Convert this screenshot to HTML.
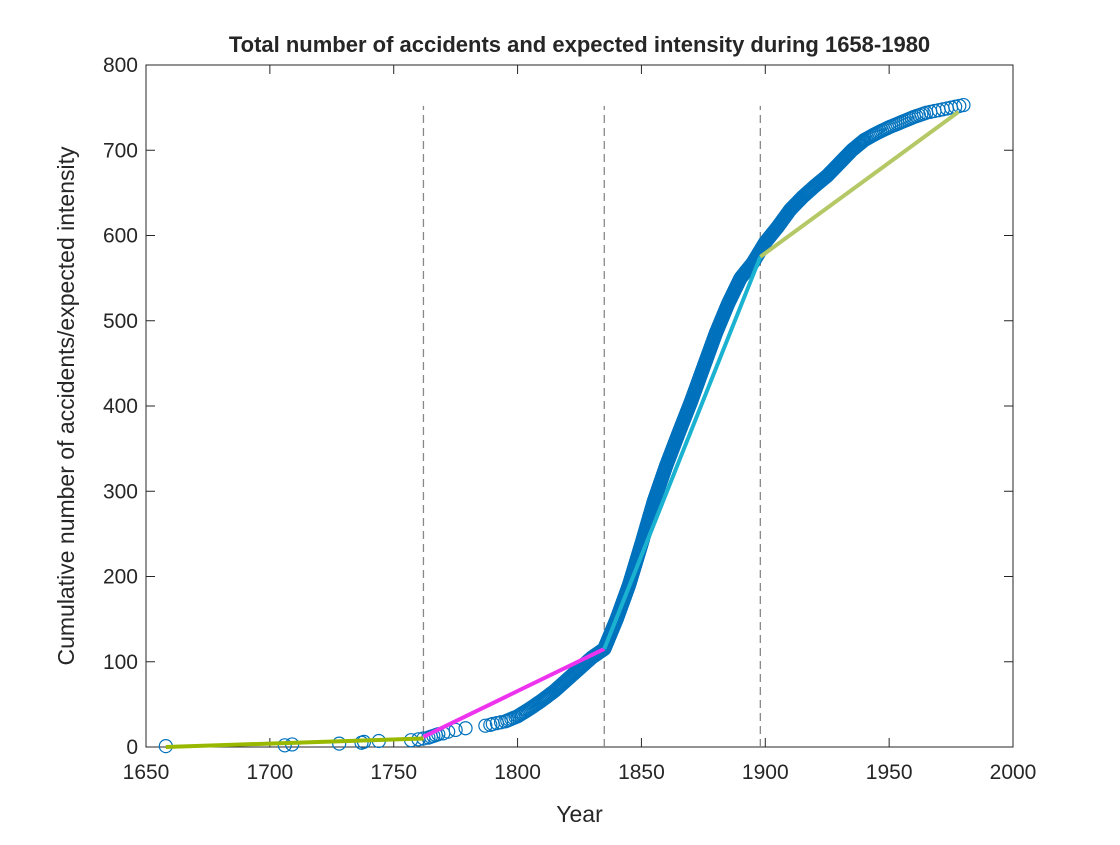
<!DOCTYPE html>
<html><head><meta charset="utf-8"><style>
body{margin:0;background:#fff;}
svg text{font-family:"Liberation Sans",Arial,sans-serif;fill:#262626;}
</style></head><body>
<svg id="chart" width="1120" height="840" xmlns="http://www.w3.org/2000/svg">
<rect width="1120" height="840" fill="#fff"/>
<g id="plot"></g>
</svg>
<script>
// sparse early accidents: year and cumulative count
const earlyYears = [1658,1706,1709,1728,1737,1738,1744,1757,1760,1762,1764,1765,1766,1767,1768,1770,1772,1775,1779,1787,1789,1790];
const earlyCum   = [1,2,3,4,5,6,7,8,9,10,11,12,13,14,15,16,18,20,22,25,26,27];
// dense period: cumulative counts at bin edges
const binYears = [1790,1795,1800,1805,1810,1815,1820,1825,1830,1835,1840,1845,1850,1855,1860,1865,1870,1875,1880,1885,1890,1895,1900,1905,1910,1915,1920,1925,1930,1935,1940,1945,1950,1955,1960,1965,1970,1975,1980];
const binCum   = [27,30,36,45,55,66,79,92,105,115,150,190,238,288,330,368,405,445,485,520,550,568,592,610,630,645,658,670,685,700,712,720,727,733,739,744,747,750,753];
// fitted intensity segments
const segX0 = [1658,1762,1835,1898];
const segY0 = [0,12,115,575];
const segX1 = [1762,1835,1898,1978];
const segY1 = [10,115,575,745];
const segColors = ['#99b800','#ee33ee','#1ab2d0','#b5c866'];
const changePoints = [1762,1835,1898];
const xTicks = [1650,1700,1750,1800,1850,1900,1950,2000];
const yTicks = [0,100,200,300,400,500,600,700,800];

const L=146,R=1013,T=65,B=747;
const xs=v=>L+(v-1650)/350*(R-L);
const ys=v=>B-v/800*(B-T);
const NS='http://www.w3.org/2000/svg';
const g=document.getElementById('plot');
function mk(tag,attrs,parent){const e=document.createElementNS(NS,tag);for(const k in attrs)e.setAttribute(k,attrs[k]);(parent||g).appendChild(e);return e;}

mk('rect',{x:L,y:T,width:R-L,height:B-T,fill:'#fff',stroke:'#262626','stroke-width':1});
xTicks.forEach(t=>{
 const x=xs(t);
 mk('line',{x1:x,x2:x,y1:B,y2:B-9,stroke:'#262626'});
 mk('line',{x1:x,x2:x,y1:T,y2:T+9,stroke:'#262626'});
 const tx=mk('text',{x:x,y:B+32,'text-anchor':'middle','font-size':21});
 tx.textContent=t;
 
 
});
yTicks.forEach(t=>{
 const y=ys(t);
 mk('line',{x1:L,x2:L+9,y1:y,y2:y,stroke:'#262626'});
 mk('line',{x1:R,x2:R-9,y1:y,y2:y,stroke:'#262626'});
 const tx=mk('text',{x:L-8,y:y+7,'text-anchor':'end','font-size':21});
 tx.textContent=t;
 
 
});
changePoints.forEach(c=>{
 const l=mk('line',{x1:xs(c),x2:xs(c),y1:B,y2:ys(752),stroke:'#888','stroke-dasharray':'8,5','stroke-width':1.3});
 
 
});
const pts=mk('g',{});


function pt(yr,c){mk('circle',{cx:xs(yr),cy:ys(c),r:6.5,fill:'none',stroke:'#0072bd','stroke-width':1.2},pts);}
earlyYears.forEach((yr,i)=>pt(yr,earlyCum[i]));
for(let i=1;i<binYears.length;i++){
 const n=binCum[i]-binCum[i-1];
 for(let k=1;k<=n;k++){pt(binYears[i-1]+(binYears[i]-binYears[i-1])*k/n,binCum[i-1]+k);}
}
segX0.forEach((x0,i)=>{
 const l=mk('line',{x1:xs(x0),y1:ys(segY0[i]),x2:xs(segX1[i]),y2:ys(segY1[i]),stroke:segColors[i],'stroke-width':4});
 
 
});
const tt=mk('text',{x:(L+R)/2,y:52,'text-anchor':'middle','font-size':22,'font-weight':'bold',fill:'#000'});
tt.textContent='Total number of accidents and expected intensity during 1658-1980';


const xl=mk('text',{x:(L+R)/2,y:822,'text-anchor':'middle','font-size':23});
xl.textContent='Year';


const yl=mk('text',{x:0,y:0,'text-anchor':'middle','font-size':23,transform:'translate(74,'+((T+B)/2)+') rotate(-90)'});
yl.textContent='Cumulative number of accidents/expected intensity';


</script>
</body></html>
